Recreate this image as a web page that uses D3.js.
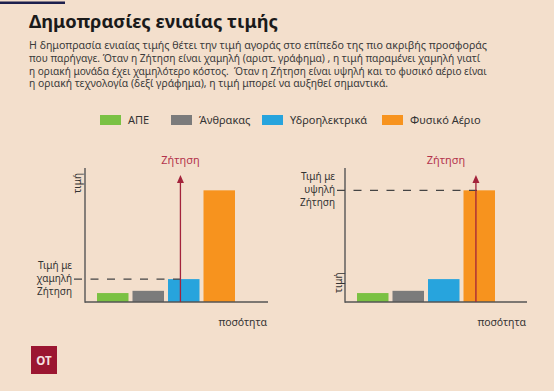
<!DOCTYPE html>
<html><head><meta charset="utf-8">
<script src="https://cdn.jsdelivr.net/npm/d3@7"></script>
<style>
html,body{margin:0;padding:0;background:#f3dfcc;}
svg{display:block;font-family:"Noto Sans",sans-serif;}
</style></head>
<body><svg id="c" width="554" height="391"></svg>
<script>
// ---- data ----
const title = "Δημοπρασίες ενιαίας τιμής";
const paragraph = [
  "Η δημοπρασία ενιαίας τιμής θέτει την τιμή αγοράς στο επίπεδο της πιο ακριβής προσφοράς",
  "που παρήγαγε. Όταν η Ζήτηση είναι χαμηλή (αριστ. γράφημα) , η τιμή παραμένει χαμηλή γιατί",
  "η οριακή μονάδα έχει χαμηλότερο κόστος.  Όταν η Ζήτηση είναι υψηλή και το φυσικό αέριο είναι",
  "η οριακή τεχνολογία (δεξί γράφημα), η τιμή μπορεί να αυξηθεί σημαντικά."
];
const categories = ["ΑΠΕ", "Άνθρακας", "Υδροηλεκτρικά", "Φυσικό Αέριο"];
const colors = ["#7ac143", "#7b7b7b", "#27a4dd", "#f7931e"];
const prices = [8, 10, 20.5, 100];
const demandQuantities = [2.35, 3.35];       // demand position (in units of offers)
const marginalIndex = [2, 3];                  // marginal technology for each panel
const priceLabels = [["Τιμή με", "χαμηλή", "Ζήτηση"], ["Τιμή με", "υψηλή", "Ζήτηση"]];
const demandLabel = "Ζήτηση";
const yAxisLabel = "τιμή";
const xAxisLabel = "ποσότητα";

// ---- layout ----
const svg = d3.select("#c");
svg.append("rect").attr("width",554).attr("height",391).attr("fill","#f3dfcc");
svg.append("rect").attr("x",0).attr("y",1.5).attr("width",65).attr("height",2.5).attr("fill","#1c1f4d");

function fit(sel, w){
  const n = sel.node(); const l = n.getComputedTextLength();
  const fs = parseFloat(sel.attr("font-size"));
  sel.attr("font-size", (fs*w/l).toFixed(2));
}

const t = svg.append("text").attr("x",29).attr("y",28).attr("font-size",19)
  .attr("font-weight",700).attr("fill","#1a1a1a").text(title);
fit(t, 249);

const paraW = [458, 451, 458, 359];
paragraph.forEach((line,i)=>{
  const s = svg.append("text").attr("x",29).attr("y",49+i*12.8).attr("font-size",11)
    .attr("fill","#3a3a3a").attr("xml:space","preserve").style("white-space","pre").text(line);
  fit(s, paraW[i]);
});

// legend
const legX = [100, 171, 262, 382];
const lg = svg.append("g");
categories.forEach((c,i)=>{
  lg.append("rect").attr("x",legX[i]).attr("y",115).attr("width",21).attr("height",10).attr("fill",colors[i]);
  lg.append("text").attr("x",legX[i]+28).attr("y",124).attr("font-size",11).attr("fill","#333").text(c);
});

// panels
const panels = [
  {axisX:85, axisEnd:268, barStart:97, labelRight:72, demandLabelDx:0, yLabelTop:true},
  {axisX:345, axisEnd:527, barStart:357, labelRight:335, demandLabelDx:-30, yLabelTop:false}
];
const y = d3.scaleLinear().domain([0,120]).range([302,168]);
const step = 35.5;

panels.forEach((p,pi)=>{
  const g = svg.append("g");
  const x = d3.scaleBand().domain(categories).range([p.barStart, p.barStart + 4*step - 4])
    .paddingInner(4/step).paddingOuter(0);
  const q = d3.scaleLinear().domain([0,4]).range([p.barStart, p.barStart+4*step]);

  // bars
  g.selectAll("rect.bar").data(categories).enter().append("rect")
    .attr("x",d=>x(d)).attr("width",x.bandwidth())
    .attr("y",(d,i)=>y(prices[i])).attr("height",(d,i)=>y(0)-y(prices[i]))
    .attr("fill",(d,i)=>colors[i]);

  // axes
  g.append("line").attr("x1",p.axisX).attr("x2",p.axisX).attr("y1",y.range()[1]).attr("y2",y(0)+0.75)
    .attr("stroke","#555").attr("stroke-width",1.4);
  g.append("line").attr("x1",p.axisX).attr("x2",p.axisEnd).attr("y1",y(0)).attr("y2",y(0))
    .attr("stroke","#555").attr("stroke-width",1.4);

  // dashed price line
  const mp = y(prices[marginalIndex[pi]]);
  const dx = q(demandQuantities[pi]);
  g.append("line").attr("x1",p.labelRight+2).attr("x2",dx+3).attr("y1",mp).attr("y2",mp)
    .attr("stroke","#444").attr("stroke-width",1.2).attr("stroke-dasharray","8,8.5");

  // price labels
  priceLabels[pi].forEach((l,li)=>{
    g.append("text").attr("x",p.labelRight).attr("y",mp+2.5+(li-1)*13).attr("text-anchor","end")
      .attr("font-size",10).attr("fill","#333").text(l);
  });

  // demand arrow
  const tip = y.range()[1]+7;
  g.append("line").attr("x1",dx).attr("x2",dx).attr("y1",y(0)).attr("y2",tip+6)
    .attr("stroke","#a3233b").attr("stroke-width",1.3);
  g.append("path").attr("d",`M${dx},${tip}L${dx-3.5},${tip+8}L${dx+3.5},${tip+8}Z`).attr("fill","#a3233b");
  g.append("text").attr("x",dx+p.demandLabelDx).attr("y",164).attr("text-anchor","middle")
    .attr("font-size",11).attr("fill","#b3344c").text(demandLabel);

  // axis titles
  if(p.yLabelTop){
    g.append("text").attr("transform",`translate(${p.axisX-4},${y.range()[1]+5}) rotate(-90)`)
      .attr("text-anchor","end").attr("font-size",10).attr("fill","#333").text(yAxisLabel);
  } else {
    g.append("text").attr("transform",`translate(${p.axisX-3},${y(0)-9}) rotate(-90)`)
      .attr("text-anchor","start").attr("font-size",10).attr("fill","#333").text(yAxisLabel);
  }
  g.append("text").attr("x",p.axisEnd-1).attr("y",326).attr("text-anchor","end")
    .attr("font-size",10.5).attr("fill","#333").text(xAxisLabel);
});

// logo
svg.append("rect").attr("x",31).attr("y",346).attr("width",26).attr("height",28).attr("fill","#9b1631");
svg.append("text").attr("x",44).attr("y",364.5).attr("text-anchor","middle").attr("font-size",11.5)
  .attr("font-weight",700).attr("fill","#f6e2e2").text("OT");
</script></body></html>
